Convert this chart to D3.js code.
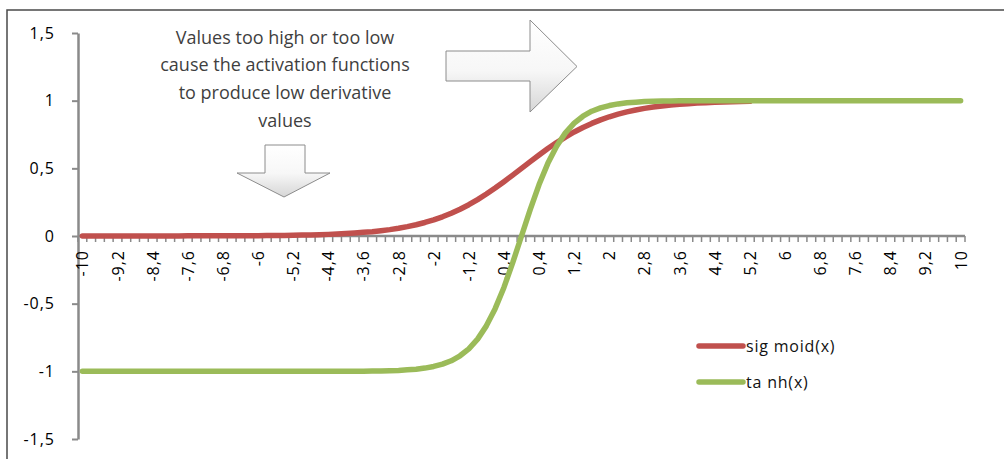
<!DOCTYPE html>
<html>
<head>
<meta charset="utf-8">
<script src="https://cdn.jsdelivr.net/npm/d3@7"></script>
<style>
  html, body { margin: 0; padding: 0; background: #fff; }
  svg { display: block; }
</style>
</head>
<body>
<script>
// ---- data ----
const categories = [-10,-9.8,-9.6,-9.4,-9.2,-9,-8.8,-8.6,-8.4,-8.2,-8,-7.8,-7.6,-7.4,-7.2,-7,-6.8,-6.6,-6.4,-6.2,
  -6,-5.8,-5.6,-5.4,-5.2,-5,-4.8,-4.6,-4.4,-4.2,-4,-3.8,-3.6,-3.4,-3.2,-3,-2.8,-2.6,-2.4,-2.2,
  -2,-1.8,-1.6,-1.4,-1.2,-1,-0.8,-0.6,-0.4,-0.2,0,0.2,0.4,0.6,0.8,1,1.2,1.4,1.6,1.8,
  2,2.2,2.4,2.6,2.8,3,3.2,3.4,3.6,3.8,4,4.2,4.4,4.6,4.8,5,5.2,5.4,5.6,5.8,
  6,6.2,6.4,6.6,6.8,7,7.2,7.4,7.6,7.8,8,8.2,8.4,8.6,8.8,9,9.2,9.4,9.6,9.8,10];

const sigmoidValues = [0.000,0.000,0.000,0.000,0.000,0.000,0.000,0.000,0.000,0.000,0.000,0.000,
  0.001,0.001,0.001,0.001,0.001,0.001,0.002,0.002,0.002,0.003,0.004,0.004,0.005,
  0.007,0.008,0.010,0.012,0.015,0.018,0.022,0.027,0.032,0.039,0.047,0.057,0.069,0.083,0.100,
  0.119,0.142,0.168,0.198,0.231,0.269,0.310,0.354,0.401,0.450,0.500,0.550,0.599,0.646,0.690,
  0.731,0.769,0.802,0.832,0.858,0.881,0.900,0.917,0.931,0.943,0.953,0.961,0.968,0.973,0.978,
  0.982,0.985,0.988,0.990,0.992,0.993,0.995];

const tanhValues = [-1.000,-1.000,-1.000,-1.000,-1.000,-1.000,-1.000,-1.000,-1.000,-1.000,
  -1.000,-1.000,-1.000,-1.000,-1.000,-1.000,-1.000,-1.000,-1.000,-1.000,
  -1.000,-1.000,-1.000,-1.000,-1.000,-1.000,-1.000,-1.000,-1.000,-1.000,
  -0.999,-0.999,-0.999,-0.998,-0.997,-0.995,-0.993,-0.989,-0.984,-0.976,
  -0.964,-0.947,-0.922,-0.885,-0.834,-0.762,-0.664,-0.537,-0.380,-0.197,
  0.000,
  0.197,0.380,0.537,0.664,0.762,0.834,0.885,0.922,0.947,0.964,
  0.976,0.984,0.989,0.993,0.995,0.997,0.998,0.999,0.999,0.999,
  1.000,1.000,1.000,1.000,1.000,1.000,1.000,1.000,1.000,1.000,
  1.000,1.000,1.000,1.000,1.000,1.000,1.000,1.000,1.000,1.000,
  1.000,1.000,1.000,1.000,1.000,1.000,1.000,1.000,1.000,1.000];

const xTickLabels = ["-10","-9,2","-8,4","-7,6","-6,8","-6","-5,2","-4,4","-3,6","-2,8","-2","-1,2","-0,4",
  "0,4","1,2","2","2,8","3,6","4,4","5,2","6","6,8","7,6","8,4","9,2","10"];
const yTicks = [-1.5,-1,-0.5,0,0.5,1,1.5];
const yTickLabels = ["-1,5","-1","-0,5","0","0,5","1","1,5"];
const seriesNames = ["sig moid(x)", "ta nh(x)"];
const seriesColors = ["#C0504D", "#9BBB59"];
const annotationLines = ["Values too high or too low", "cause the activation functions", "to produce low derivative", "values"];

// ---- chart ----
const W = 1004, H = 459;
const svg = d3.select("body").append("svg").attr("width", W).attr("height", H);

const defs = svg.append("defs");
const grad = defs.append("linearGradient").attr("id", "arrowGrad")
  .attr("x1", 0).attr("y1", 0).attr("x2", 0).attr("y2", 1);
grad.append("stop").attr("offset", "0%").attr("stop-color", "#ffffff");
grad.append("stop").attr("offset", "55%").attr("stop-color", "#f7f7f7");
grad.append("stop").attr("offset", "100%").attr("stop-color", "#d6d6d6");

// outer frame (left & top edges visible)
svg.append("path").attr("d", `M7,${H} V10 H${W}`)
  .attr("fill", "none").attr("stroke", "#4a4a4a").attr("stroke-width", 1.5);

const x = d3.scaleBand().domain(categories).range([78, 965]).paddingInner(0).paddingOuter(0);
const xc = d => x(d) + x.bandwidth() / 2;
const y = d3.scaleLinear().domain([-1.5, 1.5]).range([439, 33]);

const axisColor = "#8a8a8a";
const tickFont = "'Open Sans', Lato, sans-serif";

// y axis
const yAxis = d3.axisLeft(y).tickValues(yTicks).tickSize(6).tickSizeOuter(0).tickPadding(17)
  .tickFormat((d, i) => yTickLabels[i]);
const gy = svg.append("g").attr("transform", "translate(78,0)").call(yAxis);
gy.select(".domain").attr("stroke", axisColor).attr("stroke-width", 2.5);
gy.selectAll(".tick line").attr("stroke", axisColor).attr("stroke-width", 2);
gy.selectAll(".tick text").attr("font-family", tickFont).attr("font-size", 16)
  .attr("letter-spacing", 1).attr("fill", "#000");

// x axis at y=0
const y0 = y(0);
const gx = svg.append("g").attr("transform", `translate(0,${y0})`);
gx.append("line").attr("x1", 78).attr("x2", 965).attr("y1", 0).attr("y2", 0)
  .attr("stroke", axisColor).attr("stroke-width", 2.5);
const boundaries = categories.map(c => x(c)).concat([x(categories[categories.length - 1]) + x.bandwidth()]);
gx.selectAll("line.tk").data(boundaries).join("line").attr("class", "tk")
  .attr("x1", d => d).attr("x2", d => d).attr("y1", 0).attr("y2", 6)
  .attr("stroke", axisColor).attr("stroke-width", 1.5);
const labeledCats = categories.filter((d, i) => i % 4 === 0);
gx.selectAll("text.xl").data(labeledCats).join("text").attr("class", "xl")
  .attr("transform", d => `translate(${xc(d)},14) rotate(-90)`)
  .attr("text-anchor", "end").attr("dominant-baseline", "central")
  .attr("font-family", tickFont).attr("font-size", 16).attr("letter-spacing", 1)
  .attr("fill", "#000")
  .text((d, i) => xTickLabels[i]);

// series lines
const line = d3.line().x((d, i) => xc(categories[i])).y(d => y(d));
[sigmoidValues, tanhValues].forEach((vals, k) => {
  svg.append("path").datum(vals).attr("d", line)
    .attr("fill", "none").attr("stroke", seriesColors[k]).attr("stroke-width", 5.5)
    .attr("stroke-linejoin", "round").attr("stroke-linecap", "round");
});

// legend
const legendY = [346, 382];
seriesNames.forEach((name, k) => {
  svg.append("line").attr("x1", 699).attr("x2", 743).attr("y1", legendY[k]).attr("y2", legendY[k])
    .attr("stroke", seriesColors[k]).attr("stroke-width", 5.5).attr("stroke-linecap", "round");
  svg.append("text").attr("x", 746).attr("y", legendY[k] + 5.5)
    .attr("font-family", tickFont).attr("font-size", 16).attr("letter-spacing", 0.8)
    .attr("fill", "#111").text(name);
});

// annotation text
svg.append("g").selectAll("text").data(annotationLines).join("text")
  .attr("x", 285).attr("y", (d, i) => 43.5 + i * 27.8)
  .attr("text-anchor", "middle")
  .attr("font-family", "'Open Sans', Lato, sans-serif").attr("font-size", 18)
  .attr("fill", "#3f3f3f").text(d => d);

// block arrows
svg.append("path")
  .attr("d", "M446,51 H530 V20 L577,66.5 L530,112 V81 H446 Z")
  .attr("fill", "url(#arrowGrad)").attr("stroke", "#8c8c8c").attr("stroke-width", 1);
svg.append("path")
  .attr("d", "M265,145 H305 V173 H330 L284,197 L237,173 H265 Z")
  .attr("fill", "url(#arrowGrad)").attr("stroke", "#8c8c8c").attr("stroke-width", 1);
</script>
</body>
</html>
